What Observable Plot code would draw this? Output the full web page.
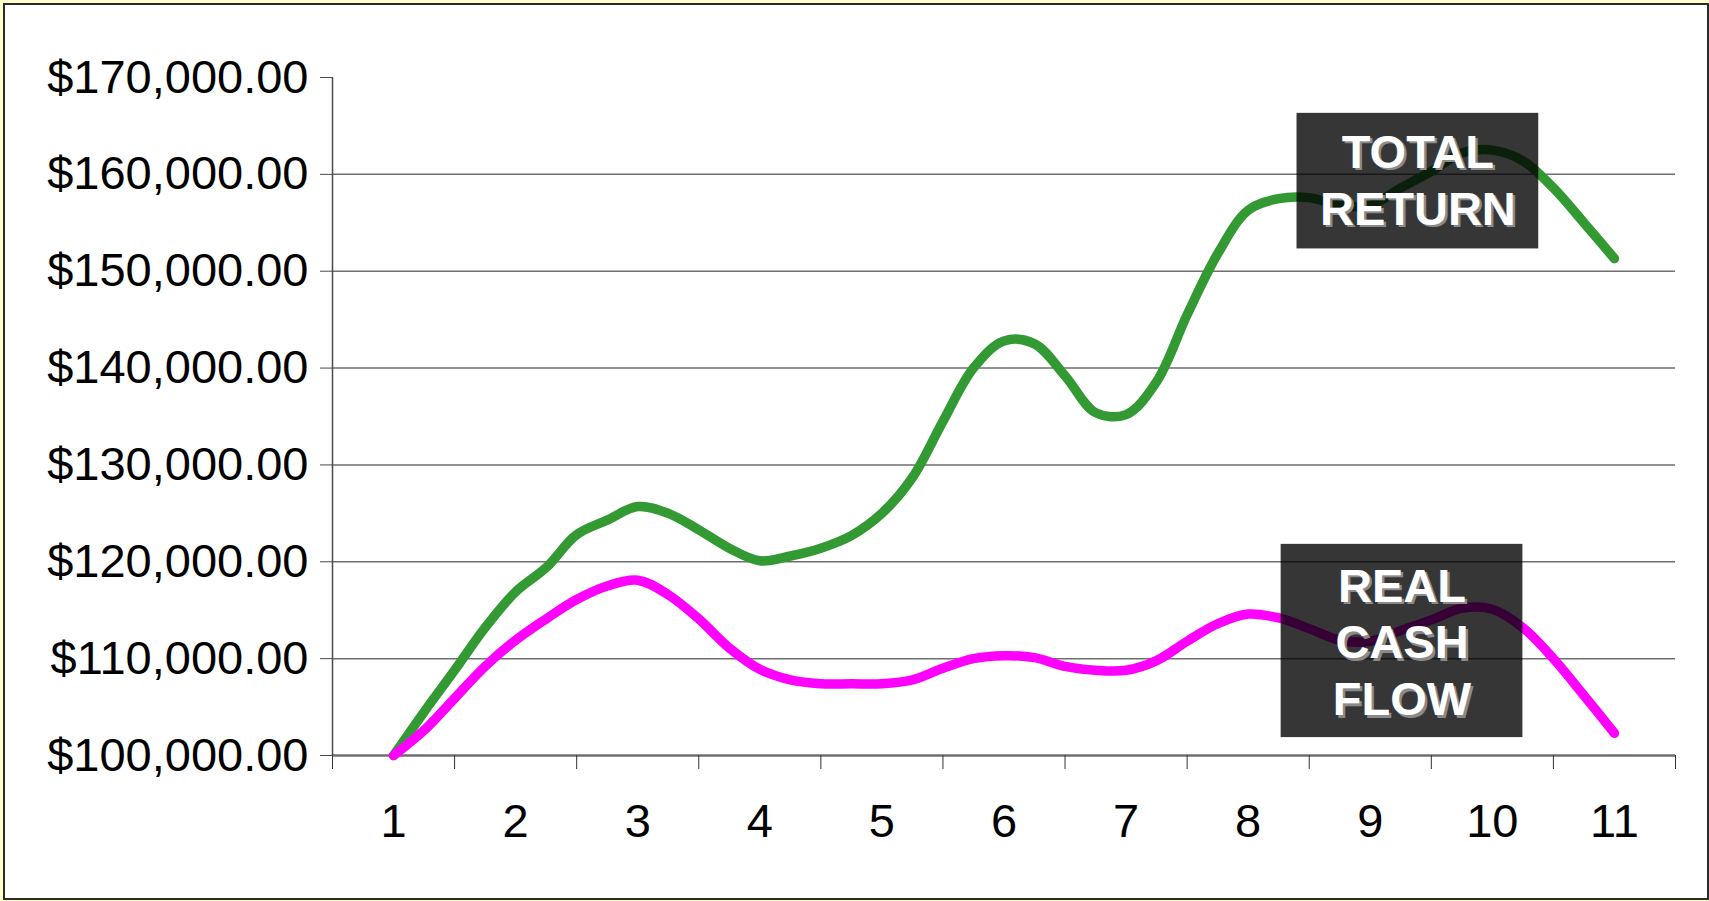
<!DOCTYPE html>
<html>
<head>
<meta charset="utf-8">
<script src="https://cdn.jsdelivr.net/npm/d3@7"></script>
<script src="https://cdn.jsdelivr.net/npm/@observablehq/plot@0.6"></script>
<style>
  html, body { margin: 0; padding: 0; background: #ffffcc; width: 1709px; height: 901px; overflow: hidden; }
  #frame { position: absolute; left: 3px; top: 3px; width: 1706px; height: 897px; box-sizing: border-box;
           background: #ffffff; border: 2px solid #2a2a2a; }
  #chart { position: absolute; left: 0; top: 0; }
</style>
</head>
<body>
<div id="frame"></div>
<div id="chart"></div>
<script>
// Category labels on the x axis
const periods = [1, 2, 3, 4, 5, 6, 7, 8, 9, 10, 11];
// Sample positions along the x axis (quarter steps between periods)
const steps = [1, 1.25, 1.5, 1.75, 2, 2.25, 2.5, 2.75, 3, 3.25, 3.5, 3.75, 4, 4.25, 4.5, 4.75,
               5, 5.25, 5.5, 5.75, 6, 6.25, 6.5, 6.75, 7, 7.25, 7.5, 7.75, 8, 8.25, 8.5, 8.75,
               9, 9.25, 9.5, 9.75, 10, 10.25, 10.5, 10.75, 11];
// Series values (thousands of dollars)
const totalReturn = [100, 104.5, 108.8, 113.2, 116.9, 119.4, 122.8, 124.3, 125.7, 125.0, 123.3, 121.4,
                     120.1, 120.6, 121.4, 122.7, 125.0, 128.7, 134.5, 140.0, 142.8, 142.5, 139.2, 135.4,
                     135.2, 138.6, 145.5, 151.8, 156.3, 157.5, 157.6, 156.8, 156.8, 158.6, 160.3, 162.2,
                     162.5, 161.4, 158.6, 155.0, 151.3];
const realCashFlow = [100, 102.6, 105.9, 109.2, 111.9, 114.1, 116.1, 117.5, 118.1, 116.6, 114.1, 111.1,
                      108.9, 107.8, 107.4, 107.4, 107.4, 107.8, 109.0, 110.0, 110.3, 110.1, 109.2, 108.8,
                      108.8, 109.8, 111.8, 113.6, 114.6, 114.2, 113.1, 111.9, 111.8, 112.9, 114.0, 115.2,
                      115.1, 113.2, 110.0, 106.2, 102.3];
// Y axis tick values
const yTicks = [100000, 110000, 120000, 130000, 140000, 150000, 160000, 170000];
const gridValues = [110000, 120000, 130000, 140000, 150000, 160000];
// Category boundaries (tick marks)
const bounds = [0.5, 1.5, 2.5, 3.5, 4.5, 5.5, 6.5, 7.5, 8.5, 9.5, 10.5, 11.5];
// Annotation labels
const labelTexts = ["TOTAL\nRETURN", "REAL\nCASH\nFLOW"];
// Annotation anchors in data space
const labelBoxes = [
  {x1: 8.40, x2: 10.38, y1: 152300, y2: 166300, tx: 9.39, ty: 159600},
  {x1: 8.27, x2: 10.25, y1: 101850, y2: 121800, tx: 9.26, ty: 111900}
];

const series = [];
steps.forEach((s, i) => series.push({x: s, v: totalReturn[i] * 1000, s: "TOTAL RETURN"}));
steps.forEach((s, i) => series.push({x: s, v: realCashFlow[i] * 1000, s: "REAL CASH FLOW"}));
const boxes = labelBoxes.map((b, i) => ({...b, label: labelTexts[i]}));

const fmt = d3.format(",.2f");
const font = "'Liberation Sans', Arial, Helvetica, sans-serif";

const chart = Plot.plot({
  width: 1709,
  height: 901,
  marginLeft: 332,
  marginRight: 34,
  marginTop: 77,
  marginBottom: 146,
  style: {fontFamily: font, fontSize: "47px", color: "black", background: "transparent", overflow: "visible"},
  x: {type: "linear", domain: [0.5, 11.5]},
  y: {type: "linear", domain: [100000, 170000]},
  marks: [
    Plot.ruleY(gridValues, {stroke: "#6f6f6f", strokeWidth: 1.5}),
    Plot.ruleY([100000], {stroke: "#6f6f6f", strokeWidth: 2.5}),
    Plot.ruleX([0.5], {y1: 100000, y2: 170000, stroke: "#4a4a4a", strokeWidth: 1.5}),
    Plot.axisY({ticks: yTicks, tickSize: 12, tickPadding: 12, fontSize: 47, stroke: "#4a4a4a",
                tickFormat: d => "$" + fmt(d), label: null}),
    Plot.axisX({ticks: periods, tickSize: 0, tickPadding: 48, fontSize: 47, tickFormat: d => String(d), label: null}),
    Plot.axisX({ticks: bounds, tickSize: 14, stroke: "#333", tickFormat: () => "", label: null}),
    Plot.lineY(series.filter(d => d.s === "TOTAL RETURN"),
      {x: "x", y: "v", stroke: "#339933", strokeWidth: 9.5, curve: "catmull-rom",
       strokeLinejoin: "round", strokeLinecap: "round"}),
    Plot.lineY(series.filter(d => d.s === "REAL CASH FLOW"),
      {x: "x", y: "v", stroke: "#ff00ff", strokeWidth: 9.5, curve: "catmull-rom",
       strokeLinejoin: "round", strokeLinecap: "round"}),
    Plot.rect(boxes, {x1: "x1", x2: "x2", y1: "y1", y2: "y2", fill: "black", fillOpacity: 0.79}),
    Plot.text(boxes, {x: "tx", y: "ty", text: "label", fill: "#8a8a8a", fontSize: 47, fontWeight: "bold",
                      lineHeight: 1.21, dx: 2.5, dy: 2.5, textAnchor: "middle"}),
    Plot.text(boxes, {x: "tx", y: "ty", text: "label", fill: "white", fontSize: 47, fontWeight: "bold",
                      lineHeight: 1.21, textAnchor: "middle"})
  ]
});
document.getElementById("chart").appendChild(chart);
</script>
</body>
</html>
